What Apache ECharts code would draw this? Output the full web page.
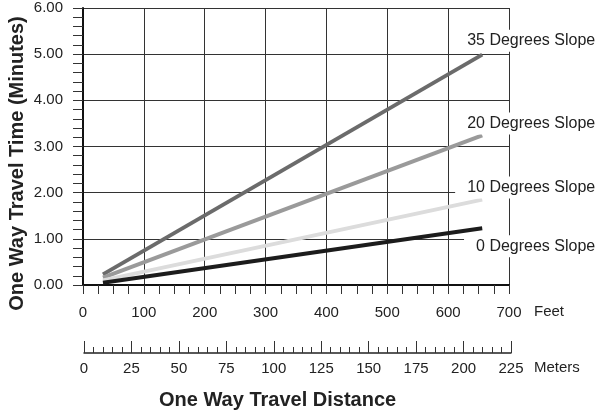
<!DOCTYPE html>
<html>
<head>
<meta charset="utf-8">
<script src="https://cdn.jsdelivr.net/npm/echarts@6/dist/echarts.min.js"></script>
<style>
  html, body { margin: 0; padding: 0; background: #fff; }
  #chart { width: 597px; height: 415px; }
</style>
</head>
<body>
<div id="chart"></div>
<script>
// distance in feet (10 m and 200 m)
var distanceFeet = [32.8, 656];
var slope35 = [0.23, 4.99];
var slope20 = [0.16, 3.24];
var slope10 = [0.1, 1.85];
var slope0 = [0.05, 1.23];
var seriesNames = ["35 Degrees Slope", "20 Degrees Slope", "10 Degrees Slope", "0 Degrees Slope"];
var seriesColors = ["#6b6b6b", "#9a9a9a", "#dcdcdc", "#1c1c1c"];
// label offsets relative to line end
var labelOffsets = [[107, -14], [107, -12], [107, -12], [107, 18]];

var FONT = "Liberation Sans";

function pairs(ys) {
  return distanceFeet.map(function (x, i) { return [x, ys[i]]; });
}

var allValues = [slope35, slope20, slope10, slope0];
var series = allValues.map(function (vals, i) {
  return {
    name: seriesNames[i],
    type: "line",
    xAxisIndex: 0,
    yAxisIndex: 0,
    data: pairs(vals),
    showSymbol: false,
    symbol: "none",
    lineStyle: { color: seriesColors[i], width: 4 },
    z: 5,
    endLabel: {
      show: true,
      formatter: "{a}",
      align: "right",
      verticalAlign: "middle",
      offset: labelOffsets[i],
      color: "#222",
      fontFamily: FONT,
      fontSize: 16,
      backgroundColor: "#fff",
      padding: [3, 2, 3, 12]
    }
  };
});

var myChart = echarts.init(document.getElementById("chart"));
var option = {
  animation: false,
  backgroundColor: "#fff",
  title: {
    text: "One Way Travel Distance",
    left: 159,
    top: 390,
    padding: 0,
    textStyle: {
      fontFamily: FONT,
      fontSize: 20,
      fontWeight: "bold",
      color: "#222"
    }
  },
  graphic: [
    {
      type: "text",
      left: 534,
      top: 304,
      style: { text: "Feet", fontFamily: FONT, fontSize: 15, fill: "#222" }
    },
    {
      type: "text",
      left: 534,
      top: 360,
      style: { text: "Meters", fontFamily: FONT, fontSize: 15, fill: "#222" }
    }
  ],
  grid: [
    { left: 83, right: 88, top: 8, bottom: 130, containLabel: false, outerBoundsMode: "none" },
    { left: 84, right: 86, top: 340, bottom: 62, containLabel: false, outerBoundsMode: "none" }
  ],
  xAxis: [
    {
      type: "value",
      gridIndex: 0,
      min: 0,
      max: 700,
      interval: 100,
      axisLine: { show: true, lineStyle: { color: "#111", width: 2 } },
      axisTick: { show: true, length: 9, lineStyle: { color: "#333", width: 1 } },
      minorTick: { show: true, splitNumber: 4, length: 9, lineStyle: { color: "#333", width: 1 } },
      axisLabel: { margin: 20, fontFamily: FONT, fontSize: 15, color: "#222" },
      splitLine: { show: true, lineStyle: { color: "#333", width: 1 } }
    },
    {
      type: "value",
      gridIndex: 1,
      min: 0,
      max: 225,
      interval: 25,
      axisLine: { show: true, lineStyle: { color: "#222", width: 1.5 } },
      axisTick: { show: true, inside: true, length: 12, lineStyle: { color: "#333", width: 1 } },
      minorTick: { show: true, splitNumber: 5, length: 6, lineStyle: { color: "#333", width: 1 } },
      axisLabel: { margin: 8, fontFamily: FONT, fontSize: 15, color: "#222" },
      splitLine: { show: false }
    }
  ],
  yAxis: [
    {
      type: "value",
      gridIndex: 0,
      min: 0,
      max: 6,
      interval: 1,
      name: "One Way Travel Time (Minutes)",
      nameLocation: "middle",
      nameGap: 56,
      nameMoveOverlap: false,
      nameTextStyle: {
        fontFamily: FONT,
        fontSize: 20,
        fontWeight: "bold",
        color: "#222",
        padding: [0, 34, 0, 0]
      },
      axisLine: { show: true, lineStyle: { color: "#111", width: 2 } },
      axisTick: { show: true, length: 10, lineStyle: { color: "#333", width: 1 } },
      minorTick: { show: true, splitNumber: 5, length: 10, lineStyle: { color: "#333", width: 1 } },
      axisLabel: {
        margin: 20,
        fontFamily: FONT,
        fontSize: 15,
        color: "#222",
        formatter: function (v) { return v.toFixed(2); }
      },
      splitLine: { show: true, lineStyle: { color: "#333", width: 1 } }
    },
    {
      type: "value",
      gridIndex: 1,
      show: false,
      min: 0,
      max: 1
    }
  ],
  series: series
};
myChart.setOption(option);
</script>
</body>
</html>
